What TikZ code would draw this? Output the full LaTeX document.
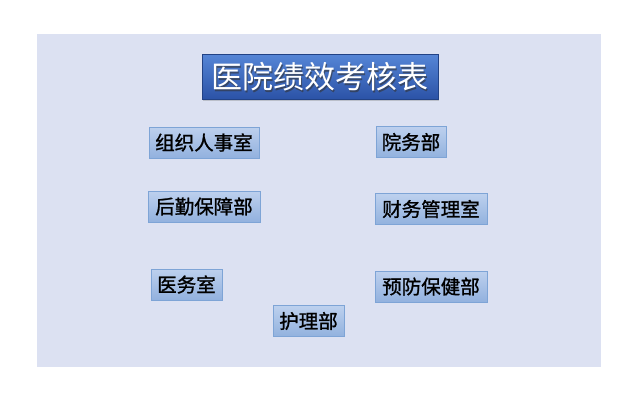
\documentclass[tikz,border=0pt]{standalone}
\usepackage{fontspec}
\newfontfamily\cjk{Noto Sans CJK SC}
\newfontfamily\cjkb[FakeBold=1.2]{Noto Sans CJK SC}
\usetikzlibrary{shadows}
\definecolor{panel}{HTML}{DCE1F2}
\definecolor{boxtop}{HTML}{BDD0EE}
\definecolor{boxbot}{HTML}{92B1DE}
\definecolor{boxline}{HTML}{7EA4D6}
\definecolor{ttop}{HTML}{5585D6}
\definecolor{tbot}{HTML}{2B52A6}
\tikzset{
  dept/.style={draw=boxline, line width=0.6pt, top color=boxtop, bottom color=boxbot,
    minimum height=31pt, inner sep=0pt, font=\cjkb\fontsize{19.5}{19.5}\selectfont, text=black},
  titlebox/.style={draw=tbot!80!black, line width=0.6pt, top color=ttop, bottom color=tbot,
    minimum width=236pt, minimum height=45pt, inner sep=0pt,
    drop shadow={shadow xshift=1pt, shadow yshift=-1.5pt, opacity=0.35}},
}
\begin{document}
\begin{tikzpicture}[x=1pt,y=-1pt]
\useasboundingbox (0,0) rectangle (640,402);
\fill[white] (0,0) rectangle (640,402);
\fill[panel] (37,34) rectangle (601,367);
\node[titlebox] (title) at (320,77) {};
\node[text=black!80, font=\cjk\fontsize{31}{31}\selectfont, opacity=0.6] (tshadow) at (321.2,78.4) {医院绩效考核表};
\node[text=white, font=\cjk\fontsize{31}{31}\selectfont] (ttext) at (320,77) {医院绩效考核表};
\node[dept, minimum width=110pt] (zz) at (204,142.5) {组织人事室};
\node[dept, minimum width=70pt] (yw) at (411,142) {院务部};
\node[dept, minimum width=112pt] (hq) at (204,206.5) {后勤保障部};
\node[dept, minimum width=112pt] (cw) at (431,209) {财务管理室};
\node[dept, minimum width=71pt] (ys) at (186.5,284.5) {医务室};
\node[dept, minimum width=112pt] (yf) at (431,286.5) {预防保健部};
\node[dept, minimum width=71pt] (hl) at (308.5,321) {护理部};
\end{tikzpicture}
\end{document}
